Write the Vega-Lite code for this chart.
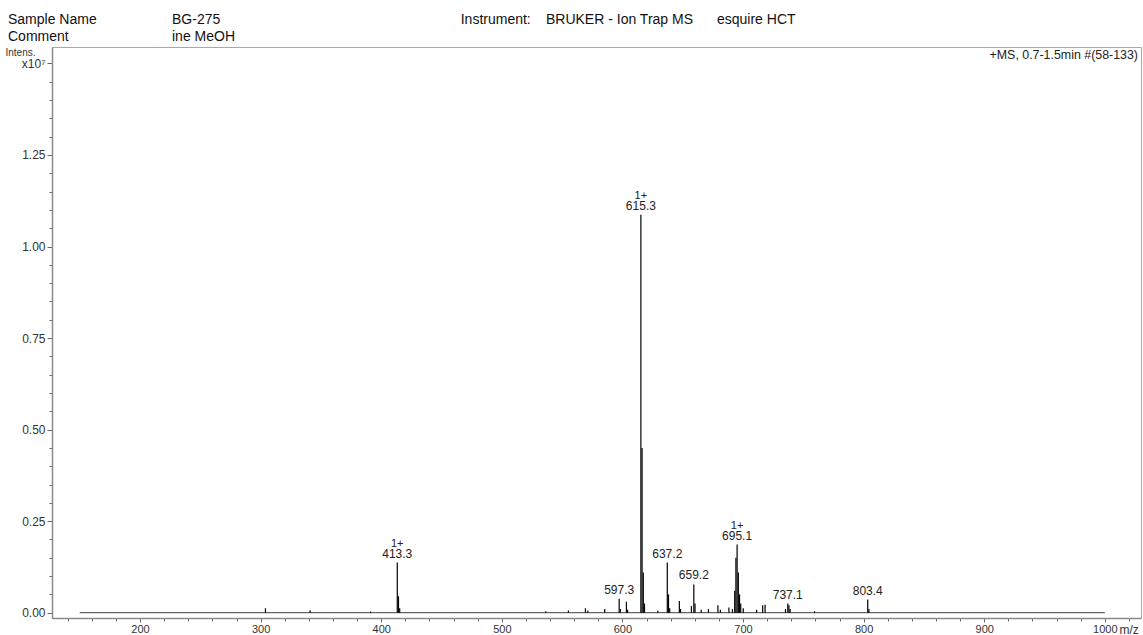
{
  "$schema": "https://vega.github.io/schema/vega-lite/v6.json",
  "autosize": {"type": "none"},
  "padding": {"left": 52, "top": 47, "right": 2, "bottom": 17},
  "width": 1089,
  "height": 571,
  "datasets": {
    "peaks": [
      {"mz": 304.0, "intensity": 0.012},
      {"mz": 341.0, "intensity": 0.007},
      {"mz": 391.2, "intensity": 0.003},
      {"mz": 413.3, "intensity": 0.137, "label": "413.3", "charge": "1+"},
      {"mz": 414.3, "intensity": 0.045},
      {"mz": 415.3, "intensity": 0.012},
      {"mz": 536.5, "intensity": 0.004},
      {"mz": 555.2, "intensity": 0.006},
      {"mz": 569.3, "intensity": 0.012},
      {"mz": 571.3, "intensity": 0.006},
      {"mz": 585.3, "intensity": 0.010},
      {"mz": 597.3, "intensity": 0.038, "label": "597.3"},
      {"mz": 598.3, "intensity": 0.010},
      {"mz": 603.3, "intensity": 0.030},
      {"mz": 604.3, "intensity": 0.008},
      {"mz": 615.3, "intensity": 1.087, "label": "615.3", "charge": "1+"},
      {"mz": 616.3, "intensity": 0.450},
      {"mz": 617.3, "intensity": 0.110},
      {"mz": 618.3, "intensity": 0.025},
      {"mz": 629.3, "intensity": 0.005},
      {"mz": 637.2, "intensity": 0.137, "label": "637.2"},
      {"mz": 638.2, "intensity": 0.050},
      {"mz": 639.2, "intensity": 0.012},
      {"mz": 647.2, "intensity": 0.032},
      {"mz": 648.2, "intensity": 0.010},
      {"mz": 657.2, "intensity": 0.018},
      {"mz": 659.2, "intensity": 0.077, "label": "659.2"},
      {"mz": 660.2, "intensity": 0.025},
      {"mz": 665.3, "intensity": 0.008},
      {"mz": 671.3, "intensity": 0.010},
      {"mz": 679.2, "intensity": 0.020},
      {"mz": 681.2, "intensity": 0.008},
      {"mz": 688.3, "intensity": 0.014},
      {"mz": 691.2, "intensity": 0.010},
      {"mz": 693.1, "intensity": 0.060},
      {"mz": 694.1, "intensity": 0.150},
      {"mz": 695.1, "intensity": 0.186, "label": "695.1", "charge": "1+"},
      {"mz": 696.1, "intensity": 0.110},
      {"mz": 697.1, "intensity": 0.050},
      {"mz": 698.1, "intensity": 0.025},
      {"mz": 700.2, "intensity": 0.012},
      {"mz": 711.3, "intensity": 0.008},
      {"mz": 716.3, "intensity": 0.020},
      {"mz": 718.3, "intensity": 0.022},
      {"mz": 735.2, "intensity": 0.010},
      {"mz": 737.1, "intensity": 0.025, "label": "737.1"},
      {"mz": 738.1, "intensity": 0.020},
      {"mz": 739.1, "intensity": 0.010},
      {"mz": 759.3, "intensity": 0.004},
      {"mz": 803.4, "intensity": 0.036, "label": "803.4"},
      {"mz": 804.4, "intensity": 0.010}
    ],
    "trace": [
      {"mz": 150, "mz2": 1000, "intensity": 0}
    ],
    "header": [
      {"mz": 90.5, "intensity": 1.6185, "text": "Sample Name"},
      {"mz": 226.5, "intensity": 1.6185, "text": "BG-275"},
      {"mz": 90.5, "intensity": 1.572, "text": "Comment"},
      {"mz": 226.5, "intensity": 1.572, "text": "ine MeOH"},
      {"mz": 465.9, "intensity": 1.6185, "text": "Instrument:"},
      {"mz": 536.6, "intensity": 1.6185, "text": "BRUKER - Ion Trap MS"},
      {"mz": 678.4, "intensity": 1.6185, "text": "esquire HCT"}
    ],
    "scan": [
      {"mz": 1027.5, "intensity": 1.523, "text": "+MS, 0.7-1.5min #(58-133)"}
    ]
  },
  "encoding": {
    "x": {
      "field": "mz",
      "type": "quantitative",
      "scale": {"domain": [127, 1030], "nice": false, "zero": false},
      "axis": {
        "values": [140, 160, 180, 200, 220, 240, 260, 280, 300, 320, 340, 360, 380, 400, 420, 440, 460, 480, 500, 520, 540, 560, 580, 600, 620, 640, 660, 680, 700, 720, 740, 760, 780, 800, 820, 840, 860, 880, 900, 920, 940, 960, 980, 1000, 1020],
        "labelExpr": "datum.value % 100 == 0 ? format(datum.value, 'd') : ''",
        "tickSize": {"condition": {"test": "datum.value % 100 == 0", "value": 4}, "value": 3},
        "grid": false,
        "labelFontSize": 11,
        "labelPadding": 1,
        "title": "m/z",
        "titleAnchor": "start",
        "titleAlign": "left",
        "titleX": 1067,
        "titleY": 11,
        "titleBaseline": "middle",
        "titleFontWeight": "normal",
        "titleFontSize": 12
      }
    },
    "y": {
      "field": "intensity",
      "type": "quantitative",
      "scale": {"domain": [-0.0145, 1.5448], "nice": false, "zero": false},
      "axis": {
        "values": [0, 0.05, 0.1, 0.15, 0.2, 0.25, 0.3, 0.35, 0.4, 0.45, 0.5, 0.55, 0.6, 0.65, 0.7, 0.75, 0.8, 0.85, 0.9, 0.95, 1.0, 1.05, 1.1, 1.15, 1.2, 1.25, 1.3, 1.35, 1.4, 1.45, 1.5],
        "labelExpr": "datum.value == 1.5 ? 'x10⁷' : (abs(datum.value * 4 - round(datum.value * 4)) < 0.001 ? format(datum.value, '.2f') : '')",
        "tickSize": {"condition": {"test": "abs(datum.value * 4 - round(datum.value * 4)) < 0.001", "value": 5}, "value": 3},
        "grid": false,
        "labelFontSize": 12,
        "labelPadding": 2,
        "title": "Intens.",
        "titleAngle": 0,
        "titleAlign": "center",
        "titleBaseline": "middle",
        "titleX": -32,
        "titleY": 5,
        "titleFontSize": 10,
        "titleFontWeight": "normal"
      }
    }
  },
  "layer": [
    {
      "data": {"name": "trace"},
      "mark": {"type": "rule", "color": "#666666", "strokeWidth": 1.3},
      "encoding": {"x2": {"field": "mz2"}}
    },
    {
      "data": {"name": "peaks"},
      "mark": {"type": "rule", "color": "#000000", "strokeWidth": 1.2},
      "encoding": {"y2": {"datum": 0}}
    },
    {
      "data": {"name": "peaks"},
      "transform": [{"filter": "isValid(datum.label)"}],
      "mark": {"type": "text", "baseline": "bottom", "dy": -2, "fontSize": 12, "color": "#222222"},
      "encoding": {"text": {"field": "label"}}
    },
    {
      "data": {"name": "peaks"},
      "transform": [{"filter": "isValid(datum.charge)"}],
      "mark": {"type": "text", "baseline": "bottom", "dy": -14, "fontSize": 11, "color": "#222222"},
      "encoding": {"text": {"field": "charge"}}
    },
    {
      "data": {"name": "header"},
      "mark": {"type": "text", "align": "left", "baseline": "middle", "fontSize": 14, "color": "#111111"},
      "encoding": {"text": {"field": "text"}}
    },
    {
      "data": {"name": "scan"},
      "mark": {"type": "text", "align": "right", "baseline": "middle", "fontSize": 12.4, "color": "#222222"},
      "encoding": {"text": {"field": "text"}}
    }
  ],
  "config": {
    "font": "Liberation Sans",
    "view": {"stroke": "#a8a8a8", "strokeWidth": 1},
    "axis": {
      "domainColor": "#8a8a8a",
      "domainWidth": 1.5,
      "tickColor": "#666666",
      "labelColor": "#333333",
      "titleColor": "#333333"
    }
  }
}
